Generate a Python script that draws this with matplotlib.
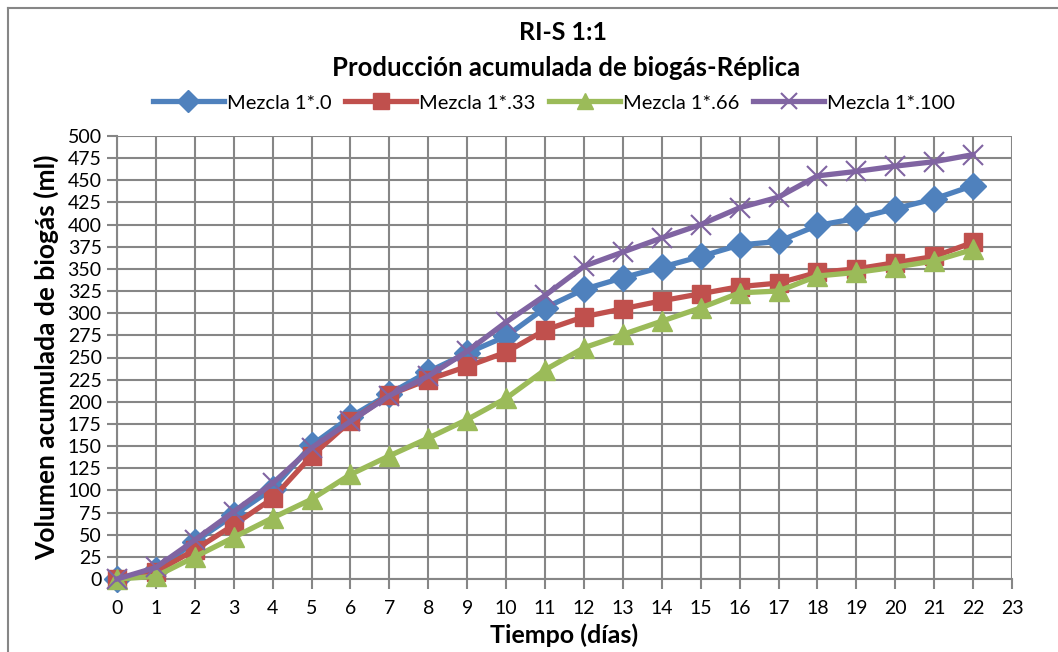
import matplotlib
matplotlib.use("Agg")
import matplotlib.pyplot as plt
from matplotlib.lines import Line2D

plt.rcParams['font.family'] = ['Lato', 'DejaVu Sans']

# datos
dias = list(range(0, 23))
mezcla_0 = [0, 10, 42, 72, 102, 151, 183, 209, 234, 255, 274, 306, 327, 340, 352, 364, 377, 381, 399, 407, 418, 429, 444]
mezcla_33 = [0, 8, 33, 61, 91, 139, 178, 208, 225, 240, 256, 281, 296, 305, 314, 322, 330, 334, 346, 350, 357, 364, 380]
mezcla_66 = [0, 3, 25, 47, 69, 90, 118, 139, 159, 180, 204, 236, 261, 276, 291, 306, 323, 325, 342, 346, 352, 359, 372]
mezcla_100 = [0, 13, 44, 76, 108, 148, 178, 207, 229, 257, 290, 320, 353, 369, 385, 400, 419, 431, 455, 460, 466, 471, 479]

nombres = ['Mezcla 1*.0', 'Mezcla 1*.33', 'Mezcla 1*.66', 'Mezcla 1*.100']
colores = ['#4F81BD', '#C0504D', '#9BBB59', '#8064A2']
marcadores = ['D', 's', '^', 'x']
tamanos = [13, 13, 14, 14]
gris = '#868686'

fig = plt.figure(figsize=(10.58, 6.52), dpi=100)
ax = fig.add_axes([117/1058, 1 - 579/652, (1012-117)/1058, (579-136)/652])

series = [mezcla_0, mezcla_33, mezcla_66, mezcla_100]
for k, datos in enumerate(series):
    if marcadores[k] == 'x':
        ax.plot(dias, datos, color=colores[k], lw=3.8, marker='x', ms=tamanos[k], mew=1.5,
                label=nombres[k], clip_on=False, zorder=3 + k)
    else:
        ax.plot(dias, datos, color=colores[k], lw=3.8, marker=marcadores[k], ms=tamanos[k],
                mec=colores[k], label=nombres[k], clip_on=False, zorder=3 + k)

ax.set_xlim(0, 23)
ax.set_ylim(0, 500)
ax.set_xticks(range(0, 24))
ax.set_yticks(range(0, 501, 25))
ax.grid(True, color=gris, lw=1.5)
ax.set_axisbelow(True)
for s in ['top', 'right']:
    ax.spines[s].set_visible(False)
for s in ['left', 'bottom']:
    ax.spines[s].set_color(gris)
    ax.spines[s].set_linewidth(1.5)
ax.tick_params(axis='both', colors=gris, labelcolor='black', labelsize=14,
               length=7, width=1.5, direction='out')
ax.tick_params(axis='x', pad=8)
ax.tick_params(axis='y', pad=4)

ax.set_xlabel('Tiempo (días)', fontsize=18, fontweight='bold', labelpad=5)
ax.set_ylabel('Volumen acumulada de biogás (ml)', fontsize=19, fontweight='bold', labelpad=6)

fig.text(563/1058, 1 - 33/652, 'RI-S 1:1', ha='center', va='center', fontsize=18, fontweight='bold')
fig.text(566/1058, 1 - 68/652, 'Producción acumulada de biogás-Réplica', ha='center', va='center',
         fontsize=18.5, fontweight='bold')

fig.legend(loc='center', bbox_to_anchor=(554/1058, 1 - 103/652), ncol=4, frameon=False,
           fontsize=14.5, handlelength=3.5, handletextpad=0.15, columnspacing=0.7,
           markerscale=0.85)

# borde del area del grafico
fig.add_artist(Line2D([8/1058, 8/1058], [0, 1 - 8/652], color=gris, lw=1.5))
fig.add_artist(Line2D([8/1058, 1], [1 - 8/652, 1 - 8/652], color=gris, lw=1.5))

fig.savefig('out.png', dpi=100)
